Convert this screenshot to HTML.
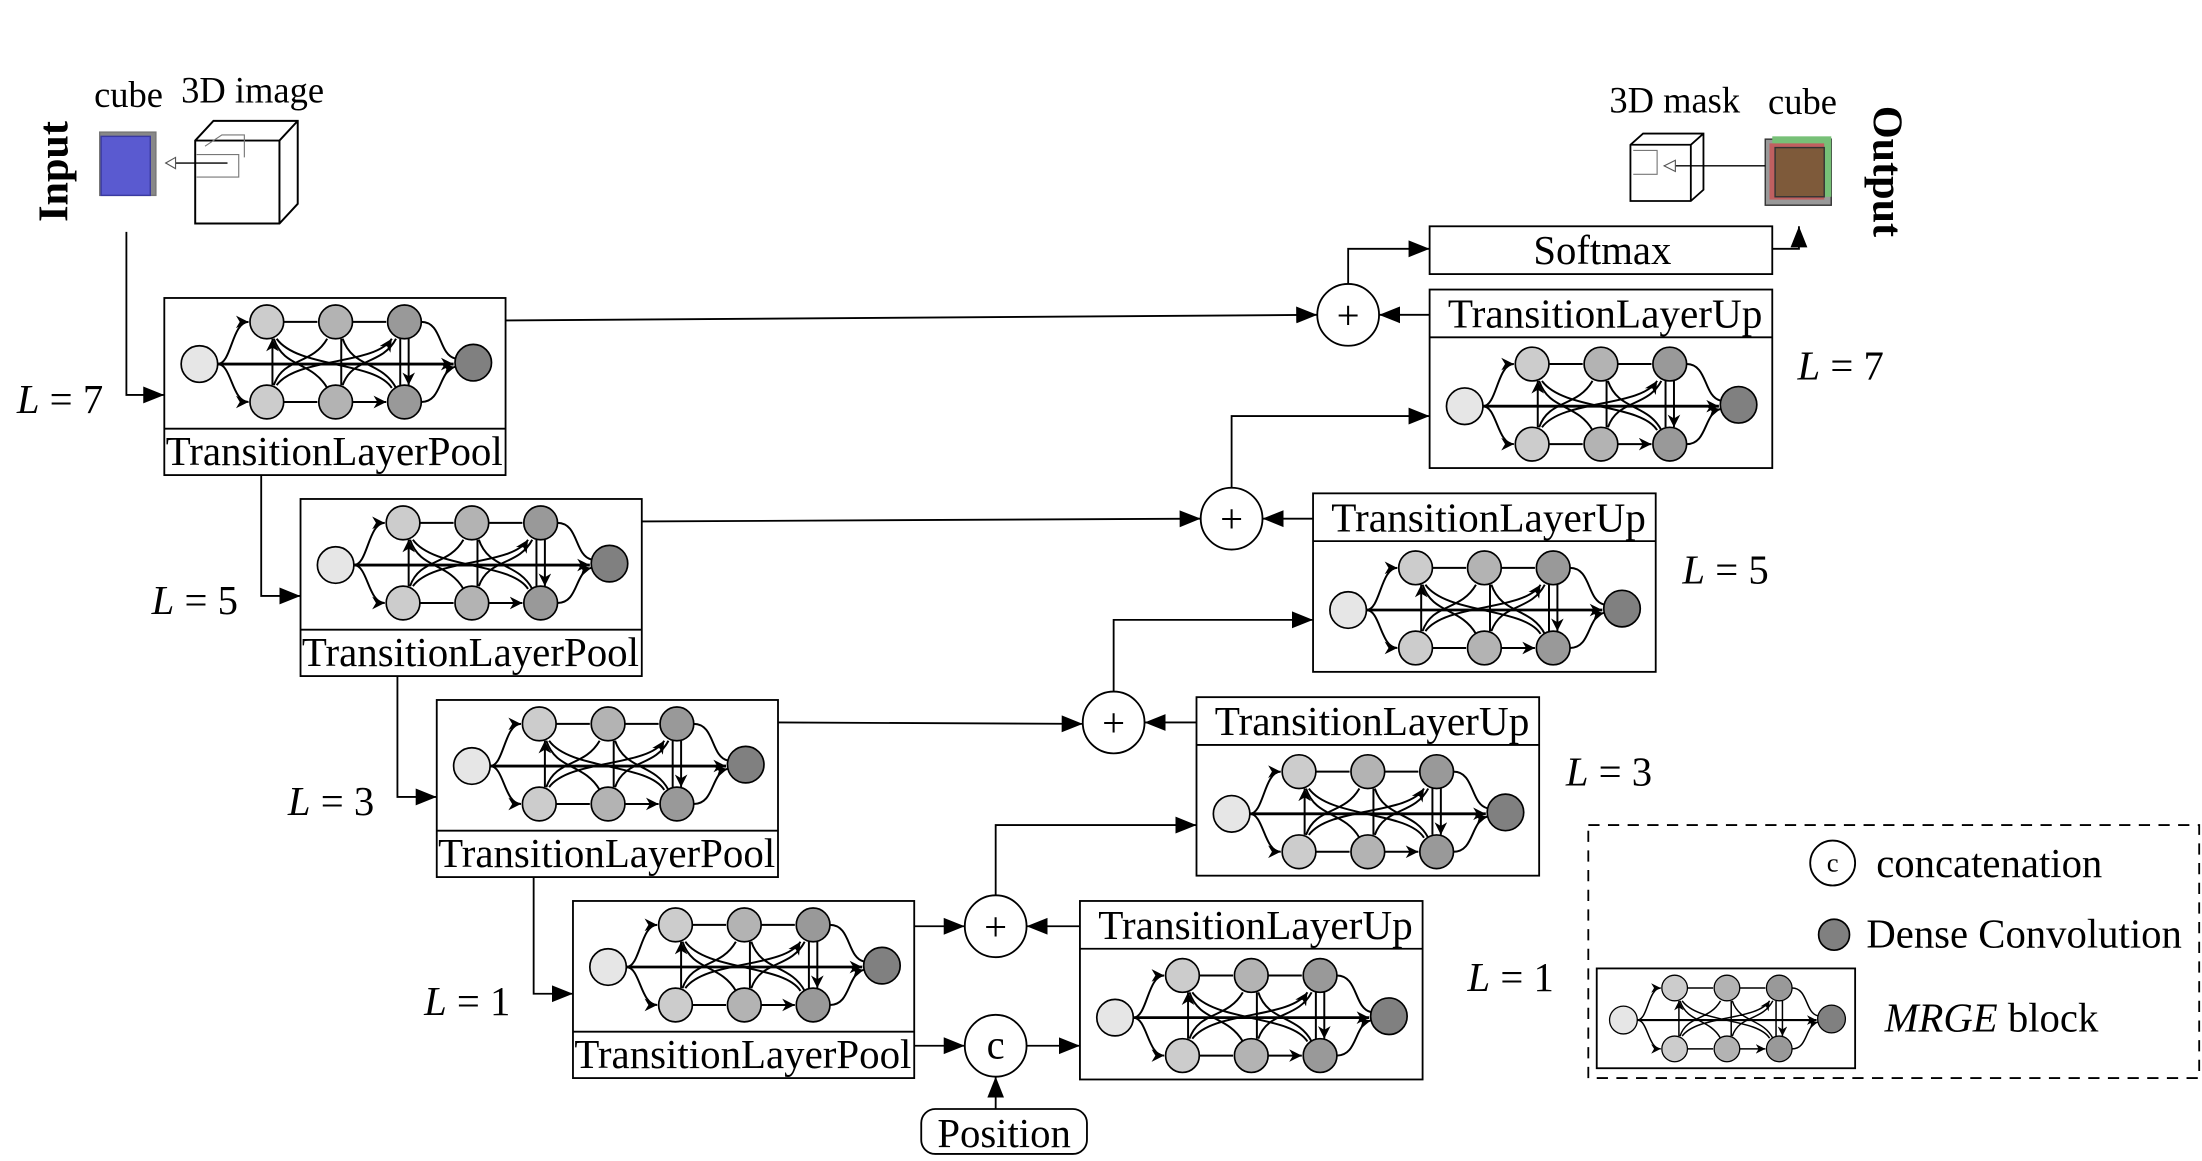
<!DOCTYPE html>
<html><head><meta charset="utf-8"><style>
html,body{margin:0;padding:0;background:#fff;}
svg{display:block;}
text{font-family:"Liberation Serif",serif;fill:#000;}
</style></head><body>
<svg width="2202" height="1161" viewBox="0 0 1568 826" preserveAspectRatio="none" xmlns="http://www.w3.org/2000/svg">
<defs>
<marker id="ah" viewBox="0 0 10 10" refX="10" refY="5" markerWidth="9" markerHeight="9" markerUnits="userSpaceOnUse" orient="auto"><path d="M0,0L10,5L0,10L3,5Z" fill="#000"/></marker>
<marker id="big" viewBox="0 0 10 10" refX="10" refY="5" markerWidth="15" markerHeight="15" markerUnits="userSpaceOnUse" orient="auto"><path d="M0,1L10,5L0,9Z" fill="#000"/></marker>
<marker id="ahs" viewBox="0 0 10 10" refX="10" refY="5" markerWidth="9" markerHeight="9" markerUnits="userSpaceOnUse" orient="auto-start-reverse"><path d="M0,0L10,5L0,10L3,5Z" fill="#000"/></marker>
<g id="net" stroke="#000" stroke-width="1.4" fill="none">
 <path d="M38,47C48,47 48,17 60,17" marker-end="url(#ah)"/>
 <path d="M38,47C48,47 48,74 60,74" marker-end="url(#ah)"/>
 <path d="M38,47L206,47" marker-end="url(#ah)" stroke-width="2"/>
 <path d="M85,17L109,17M134,17L158,17M85,74L109,74M134,74L158,74" marker-end="url(#ah)"/>
 <path d="M77,29L77,62M126,29L126,62M168,29L168,62M174,29L174,62" marker-end="url(#ahs)" marker-start="url(#ahs)"/>
 <path d="M78,29C85,50 105,45 116,64M78,62C85,42 105,48 116,29M127,29C134,50 155,45 165,64M127,62C134,42 155,48 165,29M80,29C95,50 150,45 162,64M80,62C95,42 150,48 162,29" marker-end="url(#ah)"/>
 <path d="M183,17C198,17 195,40 207,43M183,74C198,74 195,52 207,49" marker-end="url(#ah)"/>
 <g stroke-width="1.2">
 <circle cx="25" cy="47" r="13" fill="#e6e6e6"/>
 <circle cx="73" cy="17" r="12" fill="#ccc"/><circle cx="73" cy="74" r="12" fill="#ccc"/>
 <circle cx="122" cy="17" r="12" fill="#b3b3b3"/><circle cx="122" cy="74" r="12" fill="#b3b3b3"/>
 <circle cx="171" cy="17" r="12" fill="#999"/><circle cx="171" cy="74" r="12" fill="#999"/>
 <circle cx="220" cy="46" r="13" fill="#808080"/>
 </g>
</g>
</defs>
<g stroke="#000" stroke-width="1.3" fill="none">
 <rect x="117" y="212" width="243" height="126" fill="#fff"/><line x1="117" y1="305" x2="360" y2="305"/>
 <rect x="214" y="355" width="243" height="126" fill="#fff"/><line x1="214" y1="448" x2="457" y2="448"/>
 <rect x="311" y="498" width="243" height="126" fill="#fff"/><line x1="311" y1="591" x2="554" y2="591"/>
 <rect x="408" y="641" width="243" height="126" fill="#fff"/><line x1="408" y1="734" x2="651" y2="734"/>
 <rect x="1018" y="206" width="244" height="127" fill="#fff"/><line x1="1018" y1="240" x2="1262" y2="240"/>
 <rect x="935" y="351" width="244" height="127" fill="#fff"/><line x1="935" y1="385" x2="1179" y2="385"/>
 <rect x="852" y="496" width="244" height="127" fill="#fff"/><line x1="852" y1="530" x2="1096" y2="530"/>
 <rect x="769" y="641" width="244" height="127" fill="#fff"/><line x1="769" y1="675" x2="1013" y2="675"/>
 <rect x="1018" y="161" width="244" height="34" fill="#fff"/>
 <path d="M90,165L90,281L117,281" marker-end="url(#big)"/>
 <path d="M186,338L186,424L214,424" marker-end="url(#big)"/>
 <path d="M283,481L283,567L311,567" marker-end="url(#big)"/>
 <path d="M380,624L380,707L408,707" marker-end="url(#big)"/>
 <path d="M360,228L938,224" marker-end="url(#big)"/>
 <path d="M457,371L855,369" marker-end="url(#big)"/>
 <path d="M554,514L771,515" marker-end="url(#big)"/>
 <path d="M651,659L687,659" marker-end="url(#big)"/>
 <path d="M1018,224L982,224" marker-end="url(#big)"/>
 <path d="M935,369L899,369" marker-end="url(#big)"/>
 <path d="M852,514L815,514" marker-end="url(#big)"/>
 <path d="M769,659L731,659" marker-end="url(#big)"/>
 <path d="M960,202L960,177L1018,177" marker-end="url(#big)"/>
 <path d="M877,347L877,296L1018,296" marker-end="url(#big)"/>
 <path d="M793,492L793,441L935,441" marker-end="url(#big)"/>
 <path d="M709,637L709,587L852,587" marker-end="url(#big)"/>
 <path d="M651,744L687,744" marker-end="url(#big)"/>
 <path d="M731,744L769,744" marker-end="url(#big)"/>
 <path d="M709,789L709,766" marker-end="url(#big)"/>
 <path d="M1262,177L1281,177L1281,161" marker-end="url(#big)"/>
 <circle cx="960" cy="224" r="22" fill="#fff"/><circle cx="877" cy="369" r="22" fill="#fff"/>
 <circle cx="793" cy="514" r="22" fill="#fff"/><circle cx="709" cy="659" r="22" fill="#fff"/>
 <circle cx="709" cy="744" r="22" fill="#fff"/>
 <rect x="656" y="789" width="118" height="32" rx="10" fill="#fff"/>
 <rect x="1131" y="587" width="435" height="180" stroke-dasharray="8,6"/>
 <circle cx="1305" cy="614" r="16" fill="#fff"/>
 <circle cx="1306" cy="665" r="11" fill="#808080" stroke-width="1.2"/>
 <rect x="1137" y="689" width="184" height="71" fill="#fff"/>
</g>
<use href="#net" x="117" y="212"/><use href="#net" x="214" y="355"/>
<use href="#net" x="311" y="498"/><use href="#net" x="408" y="641"/>
<use href="#net" x="1018" y="242"/><use href="#net" x="935" y="387"/>
<use href="#net" x="852" y="532"/><use href="#net" x="769" y="677"/>
<use href="#net" transform="translate(1137,690) scale(0.76)"/>
<g fill="none" stroke="#000">
 <rect x="71" y="94" width="40" height="45" fill="#888" stroke="#777"/>
 <rect x="72" y="97" width="35" height="42" fill="#5a5ad0" stroke="#3a3aa0"/>
 <path d="M139,100L152,86L212,86L212,145L199,159L139,159Z M139,100L199,100L199,159 M199,100L212,86" stroke-width="1.4"/>
 <path d="M140,110L170,110L170,126L140,126 M146,104L158,96L174,96L174,112" stroke="#777" stroke-width="0.8"/>
 <path d="M162,116L118,116" stroke-width="1"/><path d="M118,116L125,112L125,120Z" fill="#fff" stroke="#555" stroke-width="0.8"/>
 <path d="M1161,103L1170,95L1213,95L1213,135L1204,143L1161,143Z M1161,103L1204,103L1204,143 M1204,103L1213,95" stroke-width="1.3"/>
 <path d="M1163,107L1180,107L1180,124L1163,124" stroke="#777" stroke-width="0.8"/>
 <rect x="1257" y="99" width="47" height="47" fill="#999" stroke="#333"/>
 <rect x="1262" y="97" width="42" height="43" fill="#77c077" stroke="none"/>
 <rect x="1260" y="102" width="39" height="40" fill="#c06060" stroke="none"/>
 <rect x="1264" y="105" width="35" height="35" fill="#7e5a3a" stroke="#333"/>
 <path d="M1257,118L1185,118" stroke-width="1"/><path d="M1185,118L1193,114L1193,122Z" fill="#fff" stroke="#555" stroke-width="0.8"/>
</g>
<g font-size="29">
 <text x="238" y="331" text-anchor="middle" textLength="240" lengthAdjust="spacingAndGlyphs">TransitionLayerPool</text>
 <text x="335" y="474" text-anchor="middle" textLength="240" lengthAdjust="spacingAndGlyphs">TransitionLayerPool</text>
 <text x="432" y="617" text-anchor="middle" textLength="240" lengthAdjust="spacingAndGlyphs">TransitionLayerPool</text>
 <text x="529" y="760" text-anchor="middle" textLength="240" lengthAdjust="spacingAndGlyphs">TransitionLayerPool</text>
 <text x="1143" y="233" text-anchor="middle" textLength="224" lengthAdjust="spacingAndGlyphs">TransitionLayerUp</text>
 <text x="1060" y="378" text-anchor="middle" textLength="224" lengthAdjust="spacingAndGlyphs">TransitionLayerUp</text>
 <text x="977" y="523" text-anchor="middle" textLength="224" lengthAdjust="spacingAndGlyphs">TransitionLayerUp</text>
 <text x="894" y="668" text-anchor="middle" textLength="224" lengthAdjust="spacingAndGlyphs">TransitionLayerUp</text>
 <text x="1141" y="188" text-anchor="middle">Softmax</text>
 <text x="715" y="816" text-anchor="middle">Position</text>
 <text x="960" y="234" text-anchor="middle">+</text>
 <text x="877" y="379" text-anchor="middle">+</text>
 <text x="793" y="524" text-anchor="middle">+</text>
 <text x="709" y="669" text-anchor="middle">+</text>
 <text x="709" y="753" text-anchor="middle">c</text>
 <text x="1305" y="620" text-anchor="middle" font-size="19">c</text>
 <text x="1336" y="624">concatenation</text>
 <text x="1329" y="674">Dense Convolution</text>
 <text x="1342" y="734"><tspan font-style="italic">MRGE</tspan> block</text>
 <text x="12" y="294"><tspan font-style="italic">L</tspan> = 7</text>
 <text x="108" y="437"><tspan font-style="italic">L</tspan> = 5</text>
 <text x="205" y="580"><tspan font-style="italic">L</tspan> = 3</text>
 <text x="302" y="722"><tspan font-style="italic">L</tspan> = 1</text>
 <text x="1280" y="270"><tspan font-style="italic">L</tspan> = 7</text>
 <text x="1198" y="415"><tspan font-style="italic">L</tspan> = 5</text>
 <text x="1115" y="559"><tspan font-style="italic">L</tspan> = 3</text>
 <text x="1045" y="705"><tspan font-style="italic">L</tspan> = 1</text>
 <text x="67" y="76" font-size="26">cube</text>
 <text x="129" y="73" font-size="26">3D image</text>
 <text x="1146" y="80" font-size="26">3D mask</text>
 <text x="1259" y="81" font-size="26">cube</text>
 <text transform="translate(48,122) rotate(-90)" text-anchor="middle" font-weight="bold" font-size="30">Input</text>
 <text transform="translate(1334,122) rotate(90)" text-anchor="middle" font-weight="bold" font-size="30">Output</text>
</g>
</svg>
</body></html>
